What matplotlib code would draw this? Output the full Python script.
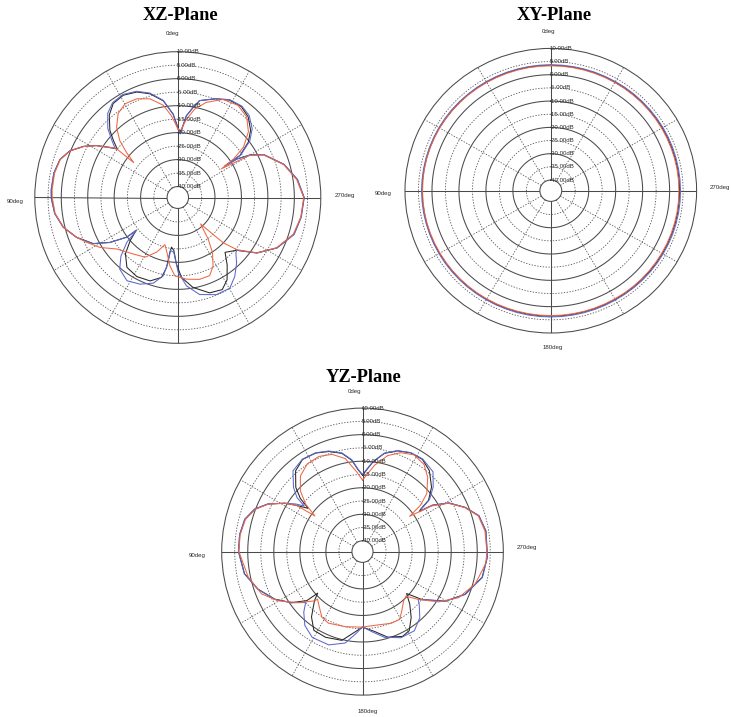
import numpy as np
import matplotlib
matplotlib.use("Agg")
import matplotlib.pyplot as plt

W, H, DPI = 731, 717, 100

# ---------------- radiation pattern data (angle in deg, gain in dB) ----------------
xz_black_deg = [0, 3.2, 8.7, 15.3, 21.6, 28.5, 35, 40.3, 45.9, 49, 51.9, 54.1, 58, 62, 67, 72.4, 79, 86.6,
                90.4, 97.3, 104.3, 111.1, 118.1, 123, 127.3, 127.7, 131.5, 136.5, 143.4, 152.2, 161.3, 168.3,
                170.7, 171.6, 172.7, 175.6, 178.8, 182.7, 189.8, 198.8, 206.2, 211.4, 216.8, 221.3, 228.7,
                235.5, 243.5, 252.7, 261.1, 270, 278.4, 287, 296, 300, 302.6, 303.3, 303.6, 307.6, 312.2,
                318.4, 324.5, 331.5, 338.4, 347.1, 350.2, 353.9, 357.6, 360]
xz_black_db = [-18, -13.1, -7.8, -4.2, -2.0, -0.9, -1.5, -4.0, -8.3, -11.8, -15.0, -12.4, -7.7, -3.7, 0.25,
               2.65, 3.65, 3.8, 3.7, 2.8, 0.6, -3.05, -7.8, -13.5, -19.8, -24.2, -20.1, -15.3, -11.8, -10.9,
               -11.4, -13.8, -17.8, -23.6, -25.5, -24.4, -19.4, -14.4, -10.2, -6.7, -6.0, -8.3, -12.9, -17.0,
               -14.4, -7.8, -2.2, 1.9, 3.1, 3.65, 1.6, -2.1, -7.9, -12.5, -17.6, -23.0, -15.8, -10.4, -6.9,
               -4.0, -2.7, -3.0, -4.7, -7.2, -10.2, -13.6, -20, -18]

xz_blue_deg = [0, 3.2, 8.7, 15.3, 21.6, 28.5, 35, 40.3, 45.9, 49.5, 52.5, 54.5, 58, 62, 67, 72.4, 79, 86.6,
               90.4, 97.3, 104.3, 111.1, 118.1, 123, 127.3, 127.9, 130.7, 135.3, 140.4, 148.1, 156.1, 163.8,
               169.3, 171.4, 172, 175.8, 180.3, 185.7, 192.9, 202, 210.3, 216.3, 222.4, 226.9, 228.7, 235.5,
               243.5, 252.7, 261.1, 270, 278.4, 287, 296, 300, 302.6, 303.2, 303.5, 307.6, 312.2, 318.4,
               324.5, 331.5, 338.4, 347.1, 350.2, 353.9, 357.6, 360]
xz_blue_db = [-18.5, -13.3, -7.6, -3.9, -1.7, -0.6, -1.1, -3.1, -7.2, -11.2, -14.2, -12.2, -7.7, -3.7, 0.25,
              2.65, 3.7, 3.95, 3.8, 2.9, 0.65, -2.95, -7.7, -13.4, -19.7, -24.4, -18.7, -13.5, -9.6, -7.7,
              -8.9, -11, -14.55, -19.8, -24.25, -23.6, -16.3, -11.15, -7.15, -5.2, -5.1, -7.7, -11.1, -14.0,
              -14.4, -7.7, -2.1, 2.0, 3.2, 3.75, 1.7, -2.0, -7.8, -12.5, -17.6, -22.5, -15.5, -9.7, -6.1,
              -3.4, -2.4, -2.8, -4.6, -7.2, -10.2, -13.6, -20.5, -18.5]

xz_red_deg = [0, 4.5, 9.1, 16, 23, 29.8, 35.9, 41.6, 46.1, 49.3, 52.2, 52.0, 54.1, 58, 62, 67, 72.4, 79,
              86.6, 90, 97.3, 104.3, 111.1, 115.8, 122.2, 129.6, 141.3, 150.8, 158.5, 164.5, 169.2, 173.2,
              177.8, 186.1, 195.2, 202.6, 207.6, 212.6, 216.6, 221.3, 224, 225.7, 229.1, 235.5, 243.5, 252.7,
              261.1, 270, 278.4, 287, 296, 300, 302.8, 304.1, 306.9, 312.4, 319, 326.4, 334.9, 343.1, 349,
              353.6, 358, 360]
xz_red_db = [-18.5, -13.7, -9.4, -6.0, -4.3, -4.0, -5.6, -9.2, -13.6, -18.5, -23.0, -14.2, -12.4, -7.8,
             -3.8, 0.15, 2.55, 3.4, 3.55, 3.4, 2.7, 0.55, -3.05, -5.8, -9.3, -14.1, -17.2, -18.7, -22.3,
             -25.9, -22.8, -18.6, -15.0, -13.6, -12.6, -12.7, -15.3, -19.7, -24.7, -31.0, -25.6, -20.0,
             -14.5, -7.8, -2.3, 1.7, 3.0, 3.55, 1.4, -2.2, -8.0, -13.0, -24.4, -18.7, -13.0, -7.9, -4.4,
             -3.0, -3.9, -7.2, -10.7, -14.9, -19.5, -18.5]

xy_deg = list(range(0, 361, 5))
xy_black_db = [3.6, 3.6, 3.6, 3.6, 3.6, 3.6, 3.6, 3.6, 3.6, 3.6, 3.6, 3.62, 3.65, 3.65, 3.65, 3.65, 3.65,
               3.65, 3.65, 3.62, 3.6, 3.6, 3.6, 3.6, 3.6, 3.6, 3.6, 3.6, 3.6, 3.6, 3.6, 3.6, 3.6, 3.6, 3.6,
               3.6, 3.6, 3.6, 3.6, 3.6, 3.6, 3.6, 3.6, 3.62, 3.65, 3.68, 3.7, 3.7, 3.7, 3.7, 3.7, 3.7, 3.7,
               3.7, 3.7, 3.7, 3.7, 3.68, 3.65, 3.65, 3.65, 3.62, 3.6, 3.6, 3.6, 3.6, 3.6, 3.6, 3.6, 3.6, 3.6,
               3.6, 3.6]
xy_blue_db = [3.8, 3.8, 3.8, 3.8, 3.8, 3.8, 3.8, 3.8, 3.8, 3.82, 3.85, 3.85, 3.85, 3.85, 3.85, 3.85, 3.85,
              3.85, 3.85, 3.85, 3.85, 3.82, 3.8, 3.8, 3.8, 3.8, 3.8, 3.8, 3.8, 3.8, 3.82, 3.85, 3.85, 3.88,
              3.9, 3.9, 3.9, 3.9, 3.9, 3.9, 3.9, 3.9, 3.9, 3.92, 3.95, 3.98, 4.0, 4.0, 4.0, 4.02, 4.05, 4.05,
              4.05, 4.05, 4.05, 4.02, 4.0, 4.0, 4.0, 3.98, 3.95, 3.92, 3.9, 3.88, 3.85, 3.85, 3.82, 3.8, 3.8,
              3.8, 3.8, 3.8, 3.8]
xy_red_db = [3.4, 3.4, 3.4, 3.4, 3.4, 3.4, 3.42, 3.45, 3.48, 3.5, 3.5, 3.52, 3.55, 3.55, 3.55, 3.55, 3.55,
             3.52, 3.5, 3.5, 3.5, 3.48, 3.45, 3.42, 3.4, 3.4, 3.4, 3.4, 3.4, 3.4, 3.4, 3.4, 3.4, 3.4, 3.4,
             3.4, 3.4, 3.4, 3.4, 3.4, 3.4, 3.4, 3.4, 3.42, 3.45, 3.45, 3.45, 3.45, 3.45, 3.45, 3.45, 3.45,
             3.45, 3.45, 3.45, 3.45, 3.45, 3.42, 3.4, 3.4, 3.4, 3.4, 3.4, 3.4, 3.4, 3.4, 3.4, 3.4, 3.4, 3.4,
             3.4, 3.4, 3.4]

yz_black_deg = [0, 3, 6.8, 12.1, 18.9, 25.9, 33.6, 40.2, 46.6, 50, 52, 56, 58.6, 63.7, 68.8, 74.9, 82.3, 90,
                100.4, 109.4, 118, 125.2, 130.8, 132.3, 135, 141.5, 147.8, 156.3, 166.7, 173.5, 180, 188.8,
                196.7, 205.7, 211.1, 217, 222.5, 227, 231.7, 239.6, 247.8, 258.1, 267.7, 279.3, 286.8, 292.9,
                298.9, 303.1, 304.6, 305.5, 307.3, 312.5, 319.9, 326.5, 333.5, 340.5, 347.2, 353.2, 360]
yz_black_db = [-15.25, -13.3, -9.4, -6.2, -4.2, -2.8, -2.4, -4.25, -8.8, -12.9, -17.6, -12.7, -9.1, -3.6,
               0.26, 2.7, 3.5, 3.5, 2.0, -1.5, -5.9, -10.7, -15.8, -20.8, -18.0, -12.6, -9.0, -8.8, -9.7,
               -13.2, -15.6, -13.6, -10.4, -8.6, -9.3, -13.0, -17.2, -20.9, -14.9, -7.2, -1.5, 2.9, 3.9, 3.9,
               2.6, -1.3, -6.2, -12.1, -17.6, -16.7, -12.2, -8.1, -4.2, -2.4, -2.5, -3.8, -6.1, -10, -15.25]

yz_blue_deg = [0, 3, 6.8, 12.1, 18.9, 25.9, 33.6, 41.3, 47.6, 51, 52.5, 55, 58.6, 63.7, 68.8, 74.9, 82.3,
               90, 100.4, 109.4, 118, 125.2, 131.3, 135.3, 141.5, 149.2, 159.8, 169.1, 175.8, 180, 186.4,
               194.6, 204.5, 213.7, 221.4, 227.5, 230, 231.7, 239.6, 247.8, 258.1, 267.7, 279.3, 286.8,
               292.9, 298.9, 303.1, 304.6, 305.5, 307.3, 311.9, 318, 326.5, 333.5, 340.5, 347.2, 353.2, 360]
yz_blue_db = [-15.0, -13.1, -9.2, -6.0, -4.0, -2.7, -2.3, -3.6, -8.2, -11.7, -15.9, -12.8, -9.0, -3.5, 0.35,
              2.8, 3.6, 3.6, 2.1, -1.4, -5.8, -10.6, -15.0, -12.0, -8.5, -6.4, -6.6, -9.0, -13.3, -15.75,
              -13.8, -10.7, -8.4, -8.2, -10.8, -14.5, -16.2, -14.9, -7.1, -1.4, 3.0, 4.0, 4.0, 2.7, -1.2,
              -6.1, -12.0, -16.9, -16.1, -11.7, -7.6, -3.6, -2.2, -2.4, -3.7, -6.0, -9.9, -15.0]

yz_red_deg = [0, 4.3, 10.7, 17.7, 25, 32.7, 39.9, 46.2, 50.7, 53.7, 55.5, 58.6, 63.7, 68.8, 74.9, 82.3,
              90, 102.3, 112.4, 119.8, 127.9, 135.4, 136, 140.7, 147.8, 154.2, 166.7, 179.2, 192.1, 202.2,
              209.2, 213.8, 220.1, 224.8, 230, 237.1, 244.8, 254.3, 264.6, 270, 279.3, 286.8, 292.9, 298.9,
              303, 306.3, 308.1, 311.5, 318.2, 324.3, 331.6, 338.5, 345, 351.9, 360]
yz_red_db = [-17.1, -13.9, -8.4, -5.6, -4.5, -4.8, -6.9, -11.0, -15.9, -21.4, -13.3, -9.1, -3.7, 0.05,
             2.5, 3.35, 3.4, 0.85, -2.2, -6.7, -12.8, -18.0, -19.2, -17.7, -14.8, -14.1, -15.0, -15.6,
             -15.8, -14.9, -14.8, -17.0, -19.6, -20.4, -16.0, -9.2, -3.3, 0.9, 3.5, 3.7, 3.6, 2.4, -1.4,
             -6.4, -12.5, -21.6, -15.8, -11.1, -6.5, -3.6, -2.6, -4.0, -6.6, -11.2, -17.1]

# ---------------- scale / ticks ----------------
DB_MIN, DB_MAX = -40, 10
RING_DB = [10, 5, 0, -5, -10, -15, -20, -25, -30, -35, -40]
RING_LABELS = ["10.00dB", "5.00dB", "0.00dB", "-5.00dB", "-10.00dB", "-15.00dB", "-20.00dB",
               "-25.00dB", "-30.00dB", "-35.00dB", "-40.00dB"]
SPOKES_DEG = list(range(0, 360, 30))

C_BLACK, C_BLUE, C_RED = "#262626", "#5a68cc", "#ee6646"
GRID_SOLID = "#4a4a4a"
GRID_DOT = "#555555"
SMALL = dict(family=["Liberation Sans", "DejaVu Sans"], fontsize=4.4, color="#2a2a2a")
HOLE_FRAC = 0.075

fig = plt.figure(figsize=(W / DPI, H / DPI), dpi=DPI)
fig.patch.set_facecolor("white")


def px(x, y):
    return x / W, 1 - y / H


def panel(cx, cy, rx, ry, title, title_xy, deg_labels, curves):
    ax = fig.add_axes([(cx - rx) / W, 1 - (cy + ry) / H, 2 * rx / W, 2 * ry / H], projection="polar")
    ax.set_aspect("auto")
    ax.set_theta_zero_location("N")
    ax.set_theta_direction(1)
    ax.set_ylim(DB_MIN, DB_MAX)
    ax.set_rorigin(DB_MIN - HOLE_FRAC / (1 - HOLE_FRAC) * (DB_MAX - DB_MIN))
    ax.grid(False)
    ax.set_xticks([])
    ax.set_yticks([])
    ax.patch.set_facecolor("white")
    for name in ("polar", "inner"):
        ax.spines[name].set_color(GRID_SOLID)
        ax.spines[name].set_linewidth(0.75)

    th = np.linspace(0, 2 * np.pi, 720)
    for v in RING_DB[1:-1]:
        if v % 10 == 0:
            ax.plot(th, np.full_like(th, v), color=GRID_SOLID, lw=0.75, zorder=1)
        else:
            ax.plot(th, np.full_like(th, v), color=GRID_DOT, lw=0.6, ls=(0, (1.6, 1.8)), zorder=1)
    for a in SPOKES_DEG:
        t = np.deg2rad(a)
        if a % 90 == 0:
            ax.plot([t, t], [DB_MIN, DB_MAX], color=GRID_SOLID, lw=0.75, zorder=1)
        else:
            ax.plot([t, t], [DB_MIN, DB_MAX], color=GRID_DOT, lw=0.6, ls=(0, (1.6, 1.8)), zorder=1)

    for v, lab in zip(RING_DB, RING_LABELS):
        ax.annotate(lab, xy=(0, v), xytext=(-1, 0), textcoords="offset pixels",
                    ha="left", va="center", zorder=3, **SMALL)

    for deg, db, col in curves:
        ax.plot(np.deg2rad(deg), db, color=col, lw=0.75, zorder=2, clip_on=False)

    tx, ty = px(*title_xy)
    fig.text(tx, ty, title, ha="center", va="center", fontsize=13.2, fontweight="bold",
             family=["Liberation Serif", "DejaVu Serif"], color="black")
    for lab, (x, y) in deg_labels.items():
        lx, ly = px(x, y)
        fig.text(lx, ly, lab, ha="center", va="center", **SMALL)
    return ax


panel(177.8, 197.5, 143.0, 145.8, "XZ-Plane", (180.5, 16),
      {"0deg": (172, 33), "90deg": (15, 202), "270deg": (345, 195)},
      [(xz_black_deg, xz_black_db, C_BLACK), (xz_blue_deg, xz_blue_db, C_BLUE),
       (xz_red_deg, xz_red_db, C_RED)])

panel(550.8, 190.7, 145.8, 142.3, "XY-Plane", (554, 15),
      {"0deg": (548, 31), "90deg": (383, 193), "270deg": (720, 188), "180deg": (553, 347)},
      [(xy_deg, xy_black_db, C_BLACK), (xy_deg, xy_blue_db, C_BLUE), (xy_deg, xy_red_db, C_RED)])

panel(362.5, 551.6, 140.8, 143.5, "YZ-Plane", (364, 377),
      {"0deg": (355, 391), "90deg": (197, 555), "270deg": (527, 548), "180deg": (368, 712)},
      [(yz_black_deg, yz_black_db, C_BLACK), (yz_blue_deg, yz_blue_db, C_BLUE),
       (yz_red_deg, yz_red_db, C_RED)])

fig.savefig("out.png", dpi=DPI, facecolor="white")
